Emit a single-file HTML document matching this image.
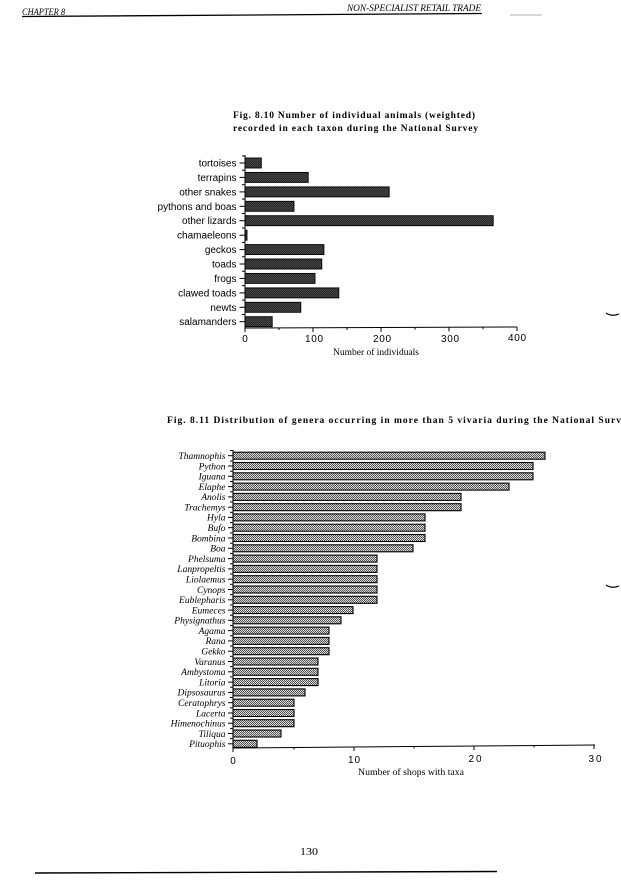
<!DOCTYPE html>
<html>
<head>
<meta charset="utf-8">
<style>
html,body{margin:0;padding:0;background:#fff;}
svg{display:block;}
.sans{font-family:"Liberation Sans",sans-serif;}
.serif{font-family:"Liberation Serif",serif;}
</style>
</head>
<body>
<svg width="621" height="888" viewBox="0 0 621 888" xmlns="http://www.w3.org/2000/svg">
<defs>
<pattern id="dk" width="2" height="2" patternUnits="userSpaceOnUse">
<rect width="2" height="2" fill="#2a2a2a"/>
<rect width="1" height="1" fill="#444"/>
<rect x="1" y="1" width="1" height="1" fill="#444"/>
</pattern>
<pattern id="lt" width="2" height="2" patternUnits="userSpaceOnUse">
<rect width="2" height="2" fill="#d8d8d8"/>
<rect width="1" height="1" fill="#555"/>
<rect x="1" y="1" width="1" height="1" fill="#555"/>
</pattern>
</defs>
<rect width="621" height="888" fill="#fff"/>

<!-- Header -->
<text x="22" y="15" class="serif" font-style="italic" font-size="9" textLength="43" lengthAdjust="spacingAndGlyphs">CHAPTER 8</text>
<line x1="22" y1="16.5" x2="482" y2="13.5" stroke="#000" stroke-width="1.3"/>
<text x="347" y="11" class="serif" font-style="italic" font-size="9" textLength="134" lengthAdjust="spacingAndGlyphs">NON-SPECIALIST RETAIL TRADE</text>
<line x1="510" y1="15" x2="542" y2="15" stroke="#999" stroke-width="0.8"/>

<!-- Fig 8.10 title -->
<text x="233" y="118" class="serif" font-weight="bold" font-size="9.5" textLength="242" lengthAdjust="spacing">Fig. 8.10 Number of individual animals (weighted)</text>
<text x="233" y="131" class="serif" font-weight="bold" font-size="9.5" textLength="245" lengthAdjust="spacing">recorded in each taxon during the National Survey</text>

<!-- Chart 1 -->
<g class="sans" font-size="10" text-anchor="end">
<text x="236.5" y="166.5">tortoises</text>
<text x="236.5" y="180.9">terrapins</text>
<text x="236.5" y="195.4">other snakes</text>
<text x="236.5" y="209.8">pythons and boas</text>
<text x="236.5" y="224.2">other lizards</text>
<text x="236.5" y="238.7">chamaeleons</text>
<text x="236.5" y="253.1">geckos</text>
<text x="236.5" y="267.5">toads</text>
<text x="236.5" y="281.9">frogs</text>
<text x="236.5" y="296.4">clawed toads</text>
<text x="236.5" y="310.8">newts</text>
<text x="236.5" y="325.2">salamanders</text>
</g>
<g stroke="#000" stroke-width="0.9" fill="url(#dk)">
<rect x="245" y="158" width="16.3" height="10"/>
<rect x="245" y="172.4" width="63.2" height="10"/>
<rect x="245" y="186.9" width="144.2" height="10"/>
<rect x="245" y="201.3" width="49" height="10"/>
<rect x="245" y="215.7" width="248.2" height="10"/>
<rect x="245" y="230.2" width="2" height="10"/>
<rect x="245" y="244.6" width="78.9" height="10"/>
<rect x="245" y="259" width="76.8" height="10"/>
<rect x="245" y="273.4" width="70" height="10"/>
<rect x="245" y="287.9" width="93.8" height="10"/>
<rect x="245" y="302.3" width="55.8" height="10"/>
<rect x="245" y="316.7" width="27.2" height="10"/>
</g>
<g stroke="#000" stroke-width="1">
<line x1="245" y1="155" x2="245" y2="328.5"/>
<line x1="244.5" y1="328" x2="517" y2="327"/>
<line x1="239.5" y1="163" x2="245" y2="163"/>
<line x1="239.5" y1="177.4" x2="245" y2="177.4"/>
<line x1="239.5" y1="191.9" x2="245" y2="191.9"/>
<line x1="239.5" y1="206.3" x2="245" y2="206.3"/>
<line x1="239.5" y1="220.7" x2="245" y2="220.7"/>
<line x1="239.5" y1="235.2" x2="245" y2="235.2"/>
<line x1="239.5" y1="249.6" x2="245" y2="249.6"/>
<line x1="239.5" y1="264" x2="245" y2="264"/>
<line x1="239.5" y1="278.4" x2="245" y2="278.4"/>
<line x1="239.5" y1="292.9" x2="245" y2="292.9"/>
<line x1="239.5" y1="307.3" x2="245" y2="307.3"/>
<line x1="239.5" y1="321.7" x2="245" y2="321.7"/>
<line x1="242" y1="156" x2="245" y2="156"/>
<line x1="242" y1="170.2" x2="245" y2="170.2"/>
<line x1="242" y1="184.7" x2="245" y2="184.7"/>
<line x1="242" y1="199.1" x2="245" y2="199.1"/>
<line x1="242" y1="213.5" x2="245" y2="213.5"/>
<line x1="242" y1="228" x2="245" y2="228"/>
<line x1="242" y1="242.4" x2="245" y2="242.4"/>
<line x1="242" y1="256.8" x2="245" y2="256.8"/>
<line x1="242" y1="271.2" x2="245" y2="271.2"/>
<line x1="242" y1="285.7" x2="245" y2="285.7"/>
<line x1="242" y1="300.1" x2="245" y2="300.1"/>
<line x1="242" y1="314.5" x2="245" y2="314.5"/>
<line x1="245" y1="328" x2="245" y2="332"/>
<line x1="279" y1="328" x2="279" y2="330"/>
<line x1="313" y1="328" x2="313" y2="332"/>
<line x1="347" y1="328" x2="347" y2="330"/>
<line x1="381" y1="327.7" x2="381" y2="331.7"/>
<line x1="415" y1="327.6" x2="415" y2="329.6"/>
<line x1="449" y1="327.4" x2="449" y2="331.4"/>
<line x1="483" y1="327.2" x2="483" y2="329.2"/>
<line x1="517" y1="327" x2="517" y2="331"/>
</g>
<g class="sans" font-size="10" text-anchor="middle">
<text x="245" y="342">0</text>
<text x="314" y="342" textLength="18" lengthAdjust="spacing">100</text>
<text x="382" y="342" textLength="18" lengthAdjust="spacing">200</text>
<text x="450" y="342" textLength="18" lengthAdjust="spacing">300</text>
<text x="517" y="341" textLength="18" lengthAdjust="spacing">400</text>
</g>
<text x="333" y="355" class="serif" font-size="9" textLength="86" lengthAdjust="spacingAndGlyphs">Number of individuals</text>

<!-- right margin marks -->
<path d="M606 313 Q612 317 619 314" stroke="#000" stroke-width="1.2" fill="none"/>
<path d="M606 585 Q612 589 619 586" stroke="#000" stroke-width="1.2" fill="none"/>

<!-- Fig 8.11 title -->
<text x="167" y="423" class="serif" font-weight="bold" font-size="9.5" textLength="454" lengthAdjust="spacing">Fig. 8.11 Distribution of genera occurring in more than 5 vivaria during the National Surv</text>

<!-- Chart 2 -->
<g class="serif" font-style="italic" font-size="9.5" text-anchor="end">
<text x="225.5" y="459">Thamnophis</text>
<text x="225.5" y="469.3">Python</text>
<text x="225.5" y="479.6">Iguana</text>
<text x="225.5" y="489.9">Elaphe</text>
<text x="225.5" y="500.2">Anolis</text>
<text x="225.5" y="510.5">Trachemys</text>
<text x="225.5" y="520.7">Hyla</text>
<text x="225.5" y="531">Bufo</text>
<text x="225.5" y="541.3">Bombina</text>
<text x="225.5" y="551.6">Boa</text>
<text x="225.5" y="561.9">Phelsuma</text>
<text x="225.5" y="572.2">Lanpropeltis</text>
<text x="225.5" y="582.5">Liolaemus</text>
<text x="225.5" y="592.8">Cynops</text>
<text x="225.5" y="603.1">Eublepharis</text>
<text x="225.5" y="613.4">Eumeces</text>
<text x="225.5" y="623.6">Physignathus</text>
<text x="225.5" y="633.9">Agama</text>
<text x="225.5" y="644.2">Rana</text>
<text x="225.5" y="654.5">Gekko</text>
<text x="225.5" y="664.8">Varanus</text>
<text x="225.5" y="675.1">Ambystoma</text>
<text x="225.5" y="685.4">Litoria</text>
<text x="225.5" y="695.7">Dipsosaurus</text>
<text x="225.5" y="706">Ceratophrys</text>
<text x="225.5" y="716.3">Lacerta</text>
<text x="225.5" y="726.5">Himenochinus</text>
<text x="225.5" y="736.8">Tiliqua</text>
<text x="225.5" y="747.1">Pituophis</text>
</g>
<g stroke="#000" stroke-width="1.1" fill="url(#lt)">
<rect x="233" y="452.2" width="312" height="7"/>
<rect x="233" y="462.5" width="300" height="7"/>
<rect x="233" y="472.8" width="300" height="7"/>
<rect x="233" y="483.1" width="276" height="7"/>
<rect x="233" y="493.4" width="228" height="7"/>
<rect x="233" y="503.7" width="228" height="7"/>
<rect x="233" y="513.9" width="192" height="7"/>
<rect x="233" y="524.2" width="192" height="7"/>
<rect x="233" y="534.5" width="192" height="7"/>
<rect x="233" y="544.8" width="180" height="7"/>
<rect x="233" y="555.1" width="144" height="7"/>
<rect x="233" y="565.4" width="144" height="7"/>
<rect x="233" y="575.7" width="144" height="7"/>
<rect x="233" y="586" width="144" height="7"/>
<rect x="233" y="596.3" width="144" height="7"/>
<rect x="233" y="606.6" width="120" height="7"/>
<rect x="233" y="616.8" width="108" height="7"/>
<rect x="233" y="627.1" width="96" height="7"/>
<rect x="233" y="637.4" width="96" height="7"/>
<rect x="233" y="647.7" width="96" height="7"/>
<rect x="233" y="658" width="85" height="7"/>
<rect x="233" y="668.3" width="85" height="7"/>
<rect x="233" y="678.6" width="85" height="7"/>
<rect x="233" y="688.9" width="72" height="7"/>
<rect x="233" y="699.2" width="61" height="7"/>
<rect x="233" y="709.5" width="61" height="7"/>
<rect x="233" y="719.7" width="61" height="7"/>
<rect x="233" y="730" width="48" height="7"/>
<rect x="233" y="740.3" width="24" height="7"/>
</g>
<g stroke="#000" stroke-width="1">
<line x1="233" y1="450" x2="233" y2="748.5"/>
<line x1="232.5" y1="748" x2="595" y2="745"/>
<line x1="228" y1="455.7" x2="233" y2="455.7"/>
<line x1="228" y1="466" x2="233" y2="466"/>
<line x1="228" y1="476.3" x2="233" y2="476.3"/>
<line x1="228" y1="486.6" x2="233" y2="486.6"/>
<line x1="228" y1="496.9" x2="233" y2="496.9"/>
<line x1="228" y1="507.2" x2="233" y2="507.2"/>
<line x1="228" y1="517.4" x2="233" y2="517.4"/>
<line x1="228" y1="527.7" x2="233" y2="527.7"/>
<line x1="228" y1="538" x2="233" y2="538"/>
<line x1="228" y1="548.3" x2="233" y2="548.3"/>
<line x1="228" y1="558.6" x2="233" y2="558.6"/>
<line x1="228" y1="568.9" x2="233" y2="568.9"/>
<line x1="228" y1="579.2" x2="233" y2="579.2"/>
<line x1="228" y1="589.5" x2="233" y2="589.5"/>
<line x1="228" y1="599.8" x2="233" y2="599.8"/>
<line x1="228" y1="610.1" x2="233" y2="610.1"/>
<line x1="228" y1="620.3" x2="233" y2="620.3"/>
<line x1="228" y1="630.6" x2="233" y2="630.6"/>
<line x1="228" y1="640.9" x2="233" y2="640.9"/>
<line x1="228" y1="651.2" x2="233" y2="651.2"/>
<line x1="228" y1="661.5" x2="233" y2="661.5"/>
<line x1="228" y1="671.8" x2="233" y2="671.8"/>
<line x1="228" y1="682.1" x2="233" y2="682.1"/>
<line x1="228" y1="692.4" x2="233" y2="692.4"/>
<line x1="228" y1="702.7" x2="233" y2="702.7"/>
<line x1="228" y1="713" x2="233" y2="713"/>
<line x1="228" y1="723.2" x2="233" y2="723.2"/>
<line x1="228" y1="733.5" x2="233" y2="733.5"/>
<line x1="228" y1="743.8" x2="233" y2="743.8"/>
<line x1="230" y1="450.5" x2="233" y2="450.5"/>
<line x1="230" y1="461" x2="233" y2="461"/>
<line x1="230" y1="471.2" x2="233" y2="471.2"/>
<line x1="230" y1="481.5" x2="233" y2="481.5"/>
<line x1="230" y1="491.8" x2="233" y2="491.8"/>
<line x1="230" y1="502" x2="233" y2="502"/>
<line x1="230" y1="512.3" x2="233" y2="512.3"/>
<line x1="230" y1="522.6" x2="233" y2="522.6"/>
<line x1="230" y1="532.9" x2="233" y2="532.9"/>
<line x1="230" y1="543.2" x2="233" y2="543.2"/>
<line x1="230" y1="553.5" x2="233" y2="553.5"/>
<line x1="230" y1="563.8" x2="233" y2="563.8"/>
<line x1="230" y1="574" x2="233" y2="574"/>
<line x1="230" y1="584.3" x2="233" y2="584.3"/>
<line x1="230" y1="594.6" x2="233" y2="594.6"/>
<line x1="230" y1="604.9" x2="233" y2="604.9"/>
<line x1="230" y1="615.2" x2="233" y2="615.2"/>
<line x1="230" y1="625.5" x2="233" y2="625.5"/>
<line x1="230" y1="635.8" x2="233" y2="635.8"/>
<line x1="230" y1="646" x2="233" y2="646"/>
<line x1="230" y1="656.3" x2="233" y2="656.3"/>
<line x1="230" y1="666.6" x2="233" y2="666.6"/>
<line x1="230" y1="676.9" x2="233" y2="676.9"/>
<line x1="230" y1="687.2" x2="233" y2="687.2"/>
<line x1="230" y1="697.5" x2="233" y2="697.5"/>
<line x1="230" y1="707.8" x2="233" y2="707.8"/>
<line x1="230" y1="718.1" x2="233" y2="718.1"/>
<line x1="230" y1="728.4" x2="233" y2="728.4"/>
<line x1="230" y1="738.6" x2="233" y2="738.6"/>
<line x1="233" y1="748" x2="233" y2="752"/>
<line x1="294" y1="747.5" x2="294" y2="749.5"/>
<line x1="354" y1="747" x2="354" y2="751"/>
<line x1="414" y1="746.5" x2="414" y2="748.5"/>
<line x1="474" y1="746" x2="474" y2="750"/>
<line x1="534" y1="745.5" x2="534" y2="747.5"/>
<line x1="594" y1="745" x2="594" y2="749"/>
</g>
<g class="sans" font-size="10" text-anchor="middle">
<text x="233" y="764">0</text>
<text x="354" y="763" textLength="12" lengthAdjust="spacing">10</text>
<text x="475" y="762" textLength="13" lengthAdjust="spacing">20</text>
<text x="595" y="762" textLength="13" lengthAdjust="spacing">30</text>
</g>
<text x="358" y="775" class="serif" font-size="9" textLength="106" lengthAdjust="spacingAndGlyphs">Number of shops with taxa</text>

<!-- Footer -->
<text x="300" y="855" class="serif" font-size="11" textLength="18" lengthAdjust="spacingAndGlyphs">130</text>
<line x1="35" y1="873" x2="497" y2="871.5" stroke="#000" stroke-width="1.4"/>
</svg>
</body>
</html>
